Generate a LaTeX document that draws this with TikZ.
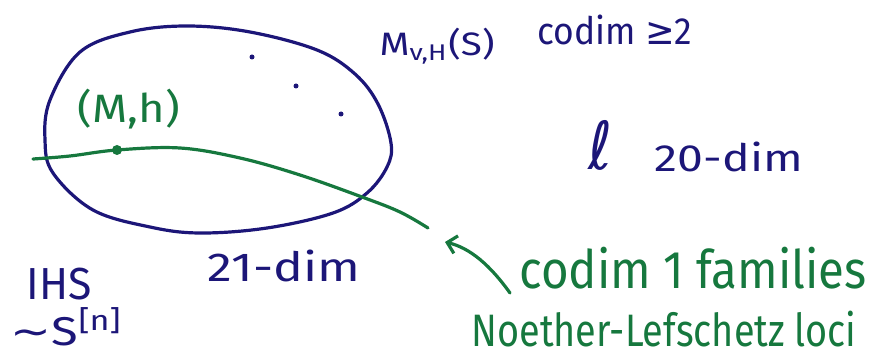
\documentclass[tikz,border=0pt]{standalone}
\usepackage{fontspec}
\usepackage{graphicx}
\setmainfont{Fira Sans}
\newfontfamily\symf{DejaVu Sans}
\usetikzlibrary{arrows.meta}
\definecolor{ink}{RGB}{28,22,120}
\definecolor{gr}{RGB}{22,120,62}
\newcommand{\hw}[3]{\resizebox*{#1pt}{#2pt}{#3}}
\tikzset{
  inktxt/.style={text=ink, inner sep=0pt},
  grtxt/.style={text=gr, inner sep=0pt},
  inkline/.style={draw=ink, line width=3.2pt, line cap=round, line join=round},
  grline/.style={draw=gr, line width=3.2pt, line cap=round, line join=round},
  gdot/.style={circle, fill=gr, inner sep=0pt, minimum size=10pt},
  idot/.style={circle, fill=ink, inner sep=0pt, minimum size=5pt}
}
\begin{document}
\begin{tikzpicture}[x=1pt,y=-1pt]
\useasboundingbox (0,0) rectangle (875,358);
% ellipse-like blob
\draw[inkline] plot[smooth cycle, tension=0.6] coordinates {
 (45,140) (50,100) (80,52) (130,32) (187,26) (250,32) (317,50) (355,74)
 (378,104) (391,143) (387,167) (367,193) (333,213) (267,228) (200,233)
 (150,227) (93,210) (53,173)};
% dots inside
\node[idot] (d1) at (252,57) {};
\node[idot] (d2) at (296,86) {};
\node[idot] (d3) at (341,114) {};
% green curve with point
\coordinate (cs) at (33,159);
\node[gdot] (pt) at (117,150) {};
\coordinate (ce) at (428,228);
\draw[grline] plot[smooth, tension=0.6] coordinates {(cs) (70,156) (pt) (180,148) (240,158) (300,175) (362,197) (400,212) (ce)};
% labels
\node[grtxt] (mh) at (129,109) {\hw{102}{40}{(M,h)}};
\node[inktxt] (mvh) at (437,46) {\hw{115}{36}{M\textsubscript{v,H}(S)}};
\node[inktxt] (codim2) at (615,30) {\hw{155}{30}{codim {\symf ≥}2}};
\node[inktxt] (ell) at (600,145) {\hw{24}{50}{\symf ℓ}};
\node[inktxt] (dim20) at (729,157) {\hw{148}{30}{20-dim}};
\node[inktxt] (dim21) at (284,266) {\hw{152}{32}{21-dim}};
\node[inktxt] (ihs) at (59,284) {\hw{65}{32}{IHS}};
\node[inktxt] (sn) at (67,327) {\hw{112}{38}{{\symf ∼}S\textsuperscript{[n]}}};
\node[grtxt] (fam) at (693,268) {\hw{347}{42}{codim 1 families}};
\node[grtxt] (nl) at (664,329) {\hw{385}{36}{Noether-Lefschetz loci}};
% arrow
\coordinate (as) at (510,293);
\coordinate (tip) at (445,242);
\draw[grline, -{Straight Barb[length=9pt,width=18pt]}] (as) .. controls (490,265) and (470,248) .. (tip);
\end{tikzpicture}
\end{document}
